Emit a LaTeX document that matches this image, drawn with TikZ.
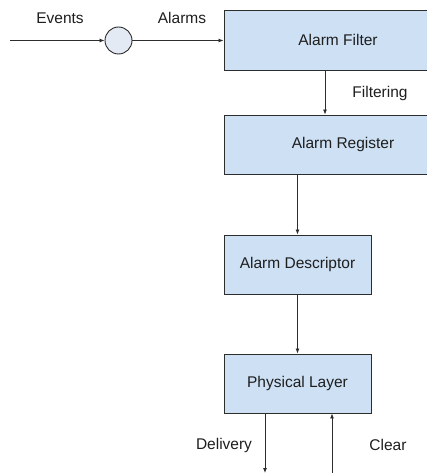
\documentclass[tikz,border=0pt]{standalone}
\usepackage{fontspec}
\setmainfont{Liberation Sans}
\usetikzlibrary{arrows.meta}
\definecolor{boxfill}{RGB}{205,224,244}
\definecolor{boxline}{RGB}{45,45,45}
\definecolor{circfill}{RGB}{228,234,244}
\definecolor{txt}{RGB}{30,30,30}
\tikzset{
  block/.style={draw=boxline, fill=boxfill, line width=0.9pt, inner sep=0pt, text=txt, font=\fontsize{15.5}{18}\selectfont},
  lbl/.style={text=txt, font=\fontsize{15.5}{18}\selectfont, inner sep=0pt},
  conn/.style={draw=boxline, line width=0.8pt, -{Latex[length=5pt,width=4pt]}},
  junction/.style={circle, draw=boxline, fill=circfill, line width=0.9pt, minimum size=27pt, inner sep=0pt}
}
\begin{document}
\begin{tikzpicture}[x=1pt,y=-1pt]
\useasboundingbox (0,0) rectangle (427,473);
\clip (0,0) rectangle (427,473);
\fill[white] (0,0) rectangle (427,473);
% boxes
\node[block, minimum width=228pt, minimum height=60pt] (filter) at (338,40) {Alarm Filter};
\node[block, minimum width=238pt, minimum height=59pt] (reg) at (343,144.5) {Alarm Register};
\node[block, minimum width=147pt, minimum height=59pt] (desc) at (297.5,264.5) {Alarm Descriptor};
\node[block, minimum width=147pt, minimum height=59pt] (phys) at (297.5,383.5) {Physical Layer};
% junction circle
\node[junction] (junc) at (118.5,40.5) {};
% free ends
\coordinate (evstart) at (10,40.5);
\coordinate (fx) at (325,0);
\coordinate (rx) at (297.5,0);
\coordinate (delend) at (265,473);
\coordinate (clrstart) at (332,480);
% connectors
\draw[conn] (evstart) -- (junc.west);
\draw[conn] (junc.east) -- (filter.west |- junc.east);
\draw[conn] (filter.south -| fx) -- (reg.north -| fx);
\draw[conn] (reg.south -| rx) -- (desc.north);
\draw[conn] (desc.south) -- (phys.north);
\draw[conn] (phys.south -| delend) -- (delend);
\draw[conn] (clrstart) -- (phys.south -| clrstart);
% labels
\node[lbl] (lev) at (60,18) {Events};
\node[lbl] (lal) at (182,18) {Alarms};
\node[lbl] (lfi) at (380,93) {Filtering};
\node[lbl] (lde) at (224,445) {Delivery};
\node[lbl] (lcl) at (388,445) {Clear};
\end{tikzpicture}
\end{document}
